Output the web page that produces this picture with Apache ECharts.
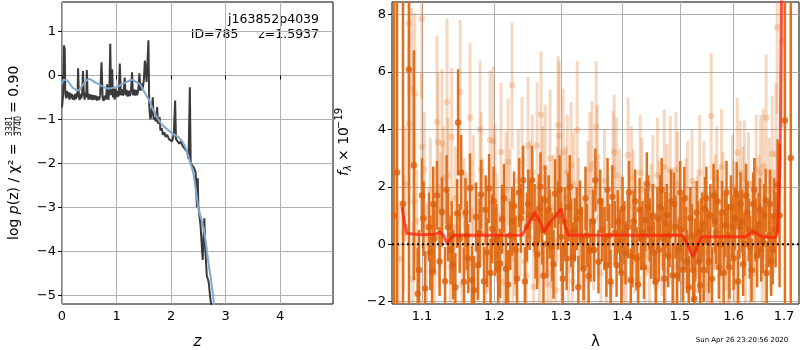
<!DOCTYPE html>
<html>
<head>
<meta charset="utf-8">
<script src="https://cdn.jsdelivr.net/npm/echarts@6/dist/echarts.min.js"></script>
</head>
<body style="margin:0">
<div id="container" style="width:800px;height:350px"></div>
<script>
// ---------- left panel: log p(z) ----------
var zTicks = [0, 1, 2, 3, 4];
var logpTicks = [-5, -4, -3, -2, -1, 0, 1];

var pzZ = [0.000, 0.020, 0.035, 0.050, 0.060, 0.075, 0.090, 0.105, 0.120, 0.135, 0.150, 0.165, 0.180, 0.195, 0.210, 0.225, 0.240, 0.255, 0.270, 0.285,
  0.295, 0.310, 0.325, 0.340, 0.355, 0.370, 0.385, 0.400, 0.415, 0.430, 0.445, 0.455, 0.470, 0.485, 0.500, 0.520, 0.540, 0.560, 0.580, 0.600,
  0.620, 0.640, 0.660, 0.680, 0.700, 0.725, 0.745, 0.765, 0.785, 0.805, 0.830, 0.850, 0.870, 0.885, 0.900, 0.920, 0.935, 0.950, 0.965, 0.985,
  1.000, 1.020, 1.040, 1.060, 1.080, 1.100, 1.120, 1.135, 1.150, 1.165, 1.185, 1.205, 1.225, 1.245, 1.265, 1.285, 1.300, 1.320, 1.340, 1.360,
  1.380, 1.400, 1.420, 1.440, 1.460, 1.480, 1.500, 1.520, 1.535, 1.550, 1.570, 1.585, 1.600, 1.620, 1.640, 1.665, 1.680, 1.700, 1.720, 1.745,
  1.760, 1.790, 1.805, 1.830, 1.850, 1.880, 1.900, 1.930, 1.960, 1.990, 2.020, 2.050, 2.075, 2.090, 2.120, 2.150, 2.180, 2.210, 2.240, 2.270,
  2.300, 2.320, 2.345, 2.360, 2.390, 2.420, 2.450, 2.475, 2.490, 2.500, 2.540, 2.580, 2.610, 2.630, 2.655, 2.690, 2.720, 2.760];
var pzLog = [-0.73, -0.45, 0.68, 0.60, -0.40, -0.52, -0.35, -0.50, -0.38, -0.55, -0.40, -0.52, -0.42, -0.55, -0.45, -0.56, -0.42, -0.54, -0.40, -0.50,
  0.16, -0.48, -0.56, -0.42, -0.52, -0.40, 0.10, -0.42, -0.55, -0.40, -0.50, 0.12, -0.45, -0.55, -0.42, -0.54, -0.44, -0.56, -0.45, -0.55,
  -0.46, -0.57, -0.48, -0.56, -0.46, 0.30, -0.52, -0.58, -0.46, -0.55, -0.20, -0.56, -0.30, 0.72, -0.45, 0.14, -0.50, -0.30, -0.55, -0.30,
  -0.50, -0.35, -0.48, 0.27, -0.45, -0.32, -0.46, -0.30, -0.05, -0.45, -0.33, -0.48, -0.35, -0.47, -0.34, 0.07, -0.45, -0.32, -0.46, -0.33,
  -0.45, -0.32, 0.05, -0.35, -0.18, -0.30, -0.12, 0.34, 0.10, -0.15, 0.35, 0.80, -0.70, -1.00, -0.90, -0.50, -1.00, -0.95, -1.05, -0.72,
  -1.10, -0.95, -1.25, -1.20, -1.35, -1.30, -1.40, -1.35, -1.45, -1.43, -1.50, -1.35, -0.57, -1.45, -1.50, -1.55, -1.50, -1.60, -1.62, -1.70,
  -1.75, -1.90, -0.27, -2.00, -2.05, -2.10, -2.20, -3.00, -2.34, -2.95, -3.40, -4.20, -3.25, -4.00, -4.55, -4.70, -5.07, -5.40];

var fitZ = [0.00, 0.03, 0.10, 0.20, 0.30, 0.40, 0.50, 0.60, 0.70, 0.85, 1.00, 1.10, 1.20, 1.28, 1.36, 1.44, 1.52, 1.60, 1.70, 1.85,
  2.03, 2.15, 2.25, 2.33, 2.41, 2.50, 2.60, 2.69, 2.76, 2.80];
var fitLog = [-0.20, -0.10, -0.12, -0.28, -0.34, -0.18, -0.08, -0.15, -0.22, -0.30, -0.26, -0.20, -0.14, -0.10, -0.15, -0.22, -0.40, -0.57, -0.86, -1.14,
  -1.32, -1.42, -1.60, -1.90, -2.23, -3.00, -3.50, -4.30, -4.90, -5.40];

// ---------- right panel: spectrum ----------
var lamTicks = [1.1, 1.2, 1.3, 1.4, 1.5, 1.6, 1.7];
var fluxTicks = [-2, 0, 2, 4, 6, 8];

var darkLam = [1.0636, 1.0674, 1.0751, 1.0829, 1.0893, 1.0943, 1.0961, 1.1000, 1.1040, 1.1093, 1.1133, 1.1165, 1.1200, 1.1268, 1.1309, 1.1350, 1.1385, 1.1419, 1.1475, 1.1488,
  1.1530, 1.1570, 1.1610, 1.1654, 1.1682, 1.1739, 1.1767, 1.1810, 1.1852, 1.1895, 1.1924, 1.1967, 1.2010, 1.2054, 1.2083, 1.2112, 1.2170, 1.2230, 1.2287, 1.2332,
  1.2362, 1.2422, 1.2480, 1.2520, 1.2557, 1.2595, 1.2632, 1.2663, 1.2709, 1.2755, 1.2786, 1.2825, 1.2863, 1.2910, 1.2956, 1.3002, 1.3065, 1.3118, 1.3160, 1.3190,
  1.3250, 1.3300, 1.3360, 1.3410, 1.3470, 1.3510, 1.3550, 1.3600, 1.3660, 1.3730, 1.3780, 1.3830, 1.3900, 1.3920, 1.3960, 1.4000, 1.4050, 1.4090, 1.4140, 1.4190,
  1.4240, 1.4290, 1.4340, 1.4390, 1.4440, 1.4490, 1.4540, 1.4600, 1.4650, 1.4700, 1.4740, 1.4790, 1.4840, 1.4870, 1.4920, 1.4980, 1.5030, 1.5080, 1.5130, 1.5190,
  1.5240, 1.5280, 1.5330, 1.5370, 1.5410, 1.5460, 1.5510, 1.5560, 1.5620, 1.5670, 1.5720, 1.5780, 1.5840, 1.5890, 1.5950, 1.6000, 1.6060, 1.6110, 1.6160, 1.6210,
  1.6270, 1.6320, 1.6380, 1.6430, 1.6490, 1.6540, 1.6600, 1.6630, 1.6690, 1.6740, 1.6800, 1.6870, 1.6910, 1.7020, 1.7140,
  1.1020, 1.1110, 1.1150, 1.1235, 1.1330, 1.1400, 1.1450, 1.1510, 1.1590, 1.1630, 1.1710, 1.1790, 1.1875, 1.1945, 1.1990, 1.2030, 1.2140, 1.2200, 1.2260, 1.2310,
  1.2390, 1.2450, 1.2500, 1.2610, 1.2685, 1.2730, 1.2810, 1.2885, 1.2980, 1.3030, 1.3090, 1.3140, 1.3220, 1.3275, 1.3330, 1.3390, 1.3440, 1.3530, 1.3630, 1.3700,
  1.3750, 1.3800, 1.3870, 1.3980, 1.4030, 1.4110, 1.4165, 1.4215, 1.4265, 1.4315, 1.4365, 1.4415, 1.4465, 1.4520, 1.4570, 1.4625, 1.4675, 1.4720, 1.4765, 1.4815,
  1.4895, 1.4950, 1.5005, 1.5055, 1.5105, 1.5160, 1.5215, 1.5260, 1.5305, 1.5350, 1.5390, 1.5435, 1.5485, 1.5535, 1.5590, 1.5645, 1.5695, 1.5750, 1.5810, 1.5865,
  1.5920, 1.5975, 1.6030, 1.6085, 1.6135, 1.6185, 1.6240, 1.6295, 1.6350, 1.6405, 1.6460, 1.6515, 1.6570, 1.6650, 1.6715, 1.6770, 1.6830];
var darkFlux = [1.00, 2.50, 1.41, 6.08, 2.75, -1.72, -0.90, 1.70, -1.54, 0.60, -0.96, 0.20, 1.70, 1.12, -1.29, 0.60, -0.20, -0.71, 1.07, 4.24,
  2.50, -1.31, 0.30, 1.96, -1.25, 0.95, -0.73, 1.73, -1.29, -0.29, 1.94, 0.54, 0.10, -0.85, -0.67, 0.87, -0.85, 0.30, 1.33, -1.19,
  1.80, 2.23, 0.60, 1.00, 2.23, 0.90, -0.36, 1.24, 0.49, 1.53, 0.02, 0.70, -0.09, 1.76, 1.01, 0.26, 0.78, 1.30, 0.40, -0.44,
  0.89, 1.12, -0.85, 0.30, -0.21, 0.80, 2.23, -0.61, 0.50, -0.73, 0.30, 1.65, -0.73, 0.78, 0.10, 1.24, -0.30, 0.60, -1.25, 0.80,
  -0.50, 1.20, 0.40, 0.85, 1.30, -0.10, -0.30, 0.90, 1.30, 0.20, 0.72, -0.40, 1.50, -1.08, 0.60, -0.20, 0.50, 1.60, -0.60, 0.90,
  -0.90, -0.20, 0.40, -1.43, 0.70, 1.24, 0.10, 1.00, 1.70, 0.40, -0.80, 1.10, 0.66, 0.30, 1.30, -0.50, 1.76, 0.60, 0.80, 0.00,
  1.10, -0.10, 1.40, 0.50, 0.70, -0.20, 1.00, 1.53, 0.30, -0.60, 1.00, 2.05, 1.00, 4.31, 3.00,
  0.9, -0.3, 1.4, -0.6, 1.9, 0.3, -1.5, 0.2, 1.1, -0.5, -1.6, 0.4, 1.2, -1.0, 1.5, 0.2, 1.6, -1.4, 0.8, -0.2,
  0.9, -1.3, 1.4, 0.0, 2.0, -1.1, 1.2, -0.7, 1.9, -1.2, -0.5, 2.0, 0.5, -1.5, 0.2, 1.6, -1.1, -0.2, 1.5, 0.2,
  1.9, -1.3, 0.4, -1.0, 0.4, 1.8, -0.4, 1.5, -1.4, 0.2, -0.8, 2.1, 0.5, 1.0, -1.3, -0.2, 1.9, -1.2, 1.0, 0.3,
  1.4, -1.1, 1.8, -0.9, 0.2, -1.5, 0.3, -1.9, 1.1, -0.6, 0.5, -0.9, 1.6, -0.6, -1.2, 0.8, 1.5, 0.0, -1.0, 1.8,
  -0.8, 0.6, 0.9, -1.3, 1.4, -0.7, 1.7, 0.5, -0.9, 1.9, -0.4, 1.2, 0.1, -1.0, 1.4, -0.2, 0.5];
var darkErr = [30, 30, 30, 30, 4.0, 1.6, 1.4, 1.3, 1.3, 1.2, 1.2, 1.2, 1.2, 1.2, 1.2, 1.2, 1.2, 1.2, 1.2, 1.85,
  1.3, 1.2, 1.2, 1.2, 1.2, 1.2, 1.2, 1.2, 1.2, 1.2, 1.2, 1.2, 1.2, 1.2, 1.2, 1.2, 1.2, 1.2, 1.2, 1.2,
  1.2, 1.2, 1.2, 1.2, 1.2, 1.2, 1.2, 1.2, 1.2, 1.2, 1.2, 1.2, 1.2, 1.2, 1.2, 1.2, 1.2, 1.2, 1.2, 1.2,
  1.1, 1.1, 1.1, 1.1, 1.1, 1.1, 1.1, 1.1, 1.1, 1.1, 1.1, 1.1, 1.1, 1.1, 1.1, 1.1, 1.1, 1.1, 1.1, 1.1,
  1.1, 1.1, 1.1, 1.1, 1.1, 1.1, 1.1, 1.1, 1.1, 1.1, 1.1, 1.1, 1.1, 1.1, 1.1, 1.1, 1.1, 1.1, 1.1, 1.1,
  1.1, 1.1, 1.1, 1.1, 1.1, 1.1, 1.1, 1.1, 1.1, 1.1, 1.1, 1.1, 1.1, 1.1, 1.1, 1.1, 1.1, 1.1, 1.1, 1.1,
  1.1, 1.1, 1.1, 1.1, 1.1, 1.1, 1.1, 1.1, 1.1, 1.2, 1.3, 1.6, 2.5, 30, 30,
  1.3, 1.3, 1.3, 1.2, 1.2, 1.2, 1.2, 1.2, 1.2, 1.2, 1.2, 1.2, 1.2, 1.2, 1.2, 1.2, 1.2, 1.2, 1.2, 1.2,
  1.2, 1.2, 1.2, 1.2, 1.2, 1.2, 1.2, 1.2, 1.2, 1.2, 1.1, 1.1, 1.1, 1.1, 1.1, 1.1, 1.1, 1.1, 1.1, 1.1,
  1.1, 1.1, 1.1, 1.1, 1.1, 1.1, 1.1, 1.1, 1.1, 1.1, 1.1, 1.1, 1.1, 1.1, 1.1, 1.1, 1.1, 1.1, 1.1, 1.1,
  1.1, 1.1, 1.1, 1.1, 1.1, 1.1, 1.1, 1.1, 1.1, 1.1, 1.1, 1.1, 1.1, 1.1, 1.1, 1.1, 1.1, 1.1, 1.1, 1.1,
  1.1, 1.1, 1.1, 1.1, 1.1, 1.1, 1.1, 1.1, 1.1, 1.1, 1.1, 1.1, 1.1, 1.1, 1.2, 1.2, 1.3];

var lightLam = [1.0700, 1.0780, 1.0829, 1.0829, 1.0868, 1.0880, 1.0906, 1.0930, 1.0997, 1.0997, 1.1060, 1.1110, 1.1170, 1.1200, 1.1214, 1.1230, 1.1268, 1.1290, 1.1336, 1.1380,
  1.1400, 1.1450, 1.1516, 1.1540, 1.1600, 1.1654, 1.1700, 1.1760, 1.1795, 1.1830, 1.1880, 1.1938, 1.1981, 1.2010, 1.2040, 1.2097, 1.2140, 1.2199, 1.2230, 1.2258,
  1.2300, 1.2350, 1.2406, 1.2450, 1.2496, 1.2530, 1.2580, 1.2632, 1.2650, 1.2693, 1.2720, 1.2755, 1.2800, 1.2832, 1.2880, 1.2920, 1.2956, 1.2972, 1.3035, 1.3080,
  1.3120, 1.3160, 1.3200, 1.3256, 1.3300, 1.3380, 1.3430, 1.3497, 1.3520, 1.3562, 1.3580, 1.3640, 1.3700, 1.3760, 1.3810, 1.3843, 1.3860, 1.3950, 1.4020, 1.4094,
  1.4150, 1.4210, 1.4270, 1.4330, 1.4410, 1.4460, 1.4520, 1.4580, 1.4630, 1.4680, 1.4720, 1.4770, 1.4826, 1.4900, 1.4960, 1.5010, 1.5060, 1.5110, 1.5170, 1.5220,
  1.5270, 1.5320, 1.5390, 1.5440, 1.5500, 1.5575, 1.5620, 1.5680, 1.5740, 1.5800, 1.5860, 1.5920, 1.5980, 1.6030, 1.6071, 1.6130, 1.6180, 1.6230, 1.6290, 1.6350,
  1.6400, 1.6441, 1.6500, 1.6560, 1.6581, 1.6640, 1.6700, 1.6762, 1.6800, 1.6840, 1.6860, 1.6964,
  1.0760, 1.0900, 1.1030, 1.1140, 1.1250, 1.1350, 1.1430, 1.1570, 1.1680, 1.1810, 1.1900, 1.2070, 1.2170, 1.2270, 1.2380, 1.2470, 1.2560, 1.2670, 1.2780, 1.2850,
  1.2940, 1.3010, 1.3100, 1.3180, 1.3280, 1.3350, 1.3460, 1.3600, 1.3730, 1.3900, 1.3990, 1.4060, 1.4180, 1.4300, 1.4380, 1.4490, 1.4600, 1.4740, 1.4860, 1.4930,
  1.5040, 1.5140, 1.5250, 1.5360, 1.5470, 1.5540, 1.5650, 1.5770, 1.5890, 1.6000, 1.6100, 1.6210, 1.6320, 1.6420, 1.6530, 1.6620, 1.6730];
var lightFlux = [-0.5, 2.1, 7.68, 4.20, 5.41, -1.2, 5.24, 0.8, 7.85, 3.39, -0.4, 1.9, -1.0, 4.26, 3.56, 0.3, 3.50, 2.3, 4.95, -0.8,
  3.73, 1.6, 5.30, -1.4, 0.7, 4.41, 2.0, -0.2, 3.99, 1.2, -1.0, 3.64, 3.58, 2.4, 0.5, 3.21, -1.3, 2.86, 1.5, 5.52,
  0.0, 2.2, 2.92, -0.6, 3.42, 1.8, -1.5, 3.44, 0.4, 4.51, 2.3, 2.66, -1.0, 2.98, 1.3, -1.6, 4.14, 3.77, 3.21, 1.6,
  -0.9, 2.75, 2.1, 3.97, 0.3, -1.2, 1.8, 2.78, 0.2, 4.08, 3.04, -1.0, 2.2, 0.6, -1.4, 2.63, 3.20, 1.5, -0.6, 3.10,
  2.3, 0.1, -1.2, 1.9, 0.7, -0.9, 2.0, -1.5, 1.1, 0.0, 2.69, 1.7, 2.57, -0.8, 2.1, 0.9, -1.3, 1.2, -0.2, 2.2,
  -1.6, 0.6, -0.9, 1.8, -0.3, 4.45, 0.9, 2.3, -1.1, 1.4, 0.2, -0.6, 2.0, -1.3, 3.19, 2.49, 1.6, -0.5, 2.1, 0.4,
  -1.0, 2.61, 1.3, -0.4, 2.72, 4.41, 1.9, 3.15, 0.8, 3.12, 7.54, 7.06,
  0.4, 1.5, 2.6, -0.6, 1.2, 2.4, -1.3, 1.0, -0.7, 2.6, 0.3, -0.9, 1.9, -0.5, 0.9, -1.1, 2.5, -0.3, 0.5, -1.4,
  1.4, 0.0, 2.5, -1.3, 1.0, -0.5, 2.6, 0.9, -0.8, 2.4, 0.4, -1.2, 1.3, 2.5, -0.4, 0.8, 2.4, -0.9, 0.6, 2.6,
  -0.2, 1.6, 0.2, 2.5, 0.3, -1.4, 1.1, 2.7, -0.9, 0.9, -0.4, 2.3, -1.1, 1.0, 2.5, -0.8, 0.4];
var lightErr = [2.0, 2.0, 2.6, 2.8, 2.8, 2.0, 2.8, 1.8, 2.8, 2.6, 1.8, 1.8, 1.8, 3.0, 2.4, 1.8, 2.6, 1.8, 2.9, 1.8,
  2.4, 1.8, 2.5, 1.8, 1.8, 2.6, 1.8, 1.8, 2.4, 1.8, 1.8, 2.4, 2.6, 1.8, 1.8, 2.4, 1.8, 2.2, 1.8, 2.2,
  1.8, 1.8, 2.2, 1.8, 2.4, 1.8, 1.8, 2.2, 1.8, 2.2, 1.8, 2.2, 1.8, 2.4, 1.8, 1.8, 2.4, 2.6, 2.2, 1.8,
  1.8, 2.2, 1.8, 2.4, 1.8, 1.8, 1.8, 2.2, 1.8, 2.3, 1.8, 1.8, 1.8, 1.8, 1.8, 2.0, 2.0, 1.8, 1.8, 2.0,
  1.8, 1.8, 1.8, 1.8, 1.8, 1.8, 1.8, 1.8, 1.8, 1.8, 2.0, 1.8, 1.9, 1.8, 1.8, 1.8, 1.8, 1.8, 1.8, 1.8,
  1.8, 1.8, 1.8, 1.8, 1.8, 2.2, 1.8, 1.8, 1.8, 1.8, 1.8, 1.8, 1.8, 1.8, 1.9, 1.8, 1.8, 1.8, 1.8, 1.8,
  1.8, 1.9, 1.8, 1.8, 2.0, 2.2, 1.8, 2.0, 1.8, 2.5, 3.0, 3.0,
  2.0, 2.0, 2.0, 2.0, 2.0, 2.0, 2.0, 2.0, 2.0, 2.0, 2.0, 2.0, 2.0, 2.0, 2.0, 2.0, 2.0, 2.0, 2.0, 2.0,
  2.0, 2.0, 2.0, 2.0, 2.0, 2.0, 2.0, 2.0, 2.0, 2.0, 2.0, 2.0, 2.0, 2.0, 2.0, 2.0, 2.0, 2.0, 2.0, 2.0,
  2.0, 2.0, 2.0, 2.0, 2.0, 2.0, 2.0, 2.0, 2.0, 2.0, 2.0, 2.0, 2.0, 2.0, 2.0, 2.0, 2.0];

var modelLam = [1.0738, 1.0770, 1.0803, 1.1000, 1.1174, 1.1242, 1.1290, 1.1336, 1.1419, 1.2406, 1.2500, 1.2603, 1.2670, 1.2740, 1.2810, 1.2879, 1.3002, 1.3060, 1.3113, 1.5041,
  1.5140, 1.5200, 1.5240, 1.5310, 1.5396, 1.6240, 1.6363, 1.6560, 1.6818, 1.6870, 1.6921, 1.6950];
var modelFlux = [1.30, 0.75, 0.37, 0.33, 0.35, 0.43, 0.30, 0.02, 0.31, 0.31, 0.70, 1.12, 0.80, 0.43, 0.70, 0.89, 1.24, 0.70, 0.31, 0.31,
  0.00, -0.30, -0.44, -0.10, 0.26, 0.26, 0.45, 0.26, 0.23, 0.40, 3.00, 9.00];

var lamMin = 1.061, lamMax = 1.731;
var fluxMin = -2.08, fluxMax = 8.43;

var darkOrange = '#e0701e';
var lightOrange = 'rgba(224,112,30,0.28)';
var font = 'DejaVu Sans';

function minus(v) {
  return v < 0 ? '\u2212' + Math.abs(v) : String(v);
}

function pairs(xs, ys, fx) {
  return xs.map(function (x, i) { return [fx ? fx(x) : x, ys[i]]; });
}

function errorBars(lam, flux, err, color, width, z) {
  var data = lam.map(function (l, i) {
    return [Math.log(l), Math.max(flux[i] - err[i], fluxMin), Math.min(flux[i] + err[i], fluxMax)];
  });
  return {
    type: 'custom', xAxisIndex: 1, yAxisIndex: 1, silent: true, z: z,
    data: data,
    encode: {x: 0, y: [1, 2]},
    renderItem: function (params, api) {
      var lo = api.coord([api.value(0), api.value(1)]);
      var hi = api.coord([api.value(0), api.value(2)]);
      return {
        type: 'line',
        shape: {x1: lo[0], y1: lo[1], x2: hi[0], y2: hi[1]},
        style: {stroke: color, lineWidth: width}
      };
    }
  };
}

var tickLabel = {color: '#000', fontSize: 13, fontFamily: font};
var gridLine = {show: true, lineStyle: {color: '#b0b0b0', width: 1}};
var tick = {show: true, inside: false, length: 4, lineStyle: {color: '#000'}};

var chart = echarts.init(document.getElementById('container'));
var option = {
  animation: false,
  grid: [
    {left: 62, top: 2, width: 271, height: 302, outerBoundsMode: 'none', show: true, borderColor: '#000', borderWidth: 1, backgroundColor: 'transparent'},
    {left: 392, top: 2, width: 407, height: 302, outerBoundsMode: 'none', show: true, borderColor: '#000', borderWidth: 1, backgroundColor: 'transparent'}
  ],
  xAxis: [
    {
      type: 'value', gridIndex: 0, min: 0, max: 4.97,
      axisLine: {show: false},
      axisTick: Object.assign({customValues: zTicks}, tick),
      axisLabel: Object.assign({customValues: zTicks, margin: 6}, tickLabel),
      splitLine: gridLine,
      name: 'z', nameLocation: 'middle', nameGap: 31,
      nameTextStyle: {fontSize: 15, fontStyle: 'italic', fontFamily: font, color: '#000'}
    },
    {
      type: 'value', gridIndex: 1, min: Math.log(lamMin), max: Math.log(lamMax),
      axisLine: {show: false},
      axisTick: Object.assign({customValues: lamTicks.map(Math.log)}, tick),
      axisLabel: Object.assign({
        customValues: lamTicks.map(Math.log), margin: 6,
        formatter: function (v) { return Math.exp(v).toFixed(1); }
      }, tickLabel),
      splitLine: gridLine,
      name: '\u03bb', nameLocation: 'middle', nameGap: 31,
      nameTextStyle: {fontSize: 15, fontFamily: font, color: '#000'}
    }
  ],
  yAxis: [
    {
      type: 'value', gridIndex: 0, min: -5.2, max: 1.67,
      axisLine: {show: false},
      axisTick: Object.assign({customValues: logpTicks}, tick),
      axisLabel: Object.assign({customValues: logpTicks, margin: 6, formatter: minus}, tickLabel),
      splitLine: gridLine
    },
    {
      type: 'value', gridIndex: 1, min: fluxMin, max: fluxMax,
      axisLine: {show: false},
      axisTick: Object.assign({customValues: fluxTicks}, tick),
      axisLabel: Object.assign({customValues: fluxTicks, margin: 6, formatter: minus}, tickLabel),
      splitLine: gridLine
    }
  ],
  graphic: [
    {type: 'text', x: 319, y: 20, style: {text: 'j163852p4039', textAlign: 'right', textVerticalAlign: 'middle', fontSize: 12.5, fontFamily: font, fill: '#000'}},
    {type: 'text', x: 319, y: 35, style: {text: 'ID=785     z=1.5937', textAlign: 'right', textVerticalAlign: 'middle', fontSize: 12.5, fontFamily: font, fill: '#000'}},
    {
      type: 'group', x: 14, y: 240, rotation: Math.PI / 2,
      children: [
        {type: 'text', x: 0, y: 0, style: {
          text: 'log {i|p}(z) / \u03c7\u00b2 =', textVerticalAlign: 'middle', fontSize: 14, fontFamily: font, fill: '#000',
          rich: {i: {fontStyle: 'italic', fontSize: 14, fontFamily: font}}
        }},
        {type: 'text', x: 114, y: -4, style: {text: '3381', textAlign: 'center', textVerticalAlign: 'middle', fontSize: 8, fontFamily: font, fill: '#000'}},
        {type: 'line', shape: {x1: 105, y1: 0, x2: 123, y2: 0}, style: {stroke: '#000', lineWidth: 0.8}},
        {type: 'text', x: 114, y: 4.5, style: {text: '3740', textAlign: 'center', textVerticalAlign: 'middle', fontSize: 8, fontFamily: font, fill: '#000'}},
        {type: 'text', x: 127, y: 0, style: {text: '= 0.90', textVerticalAlign: 'middle', fontSize: 14, fontFamily: font, fill: '#000'}}
      ]
    },
    {
      type: 'group', x: 344, y: 176, rotation: Math.PI / 2,
      children: [
        {type: 'text', x: 0, y: 0, style: {text: 'f', textVerticalAlign: 'middle', fontSize: 14, fontStyle: 'italic', fontFamily: font, fill: '#000'}},
        {type: 'text', x: 5, y: 4, style: {text: '\u03bb', textVerticalAlign: 'middle', fontSize: 10, fontStyle: 'italic', fontFamily: font, fill: '#000'}},
        {type: 'text', x: 15, y: 0, style: {text: '\u00d7 10', textVerticalAlign: 'middle', fontSize: 14, fontFamily: font, fill: '#000'}},
        {type: 'text', x: 47, y: -5, style: {text: '\u221219', textVerticalAlign: 'middle', fontSize: 10, fontFamily: font, fill: '#000'}}
      ]
    },
    {type: 'text', x: 742, y: 340, style: {text: 'Sun Apr 26 23:20:56 2020', textAlign: 'center', textVerticalAlign: 'middle', fontSize: 7, fontFamily: font, fill: '#000'}}
  ],
  series: [
    {
      type: 'line', xAxisIndex: 0, yAxisIndex: 0, data: pairs(pzZ, pzLog),
      showSymbol: false, clip: true, z: 3,
      lineStyle: {color: '#3a3a3a', width: 2}
    },
    {
      type: 'line', xAxisIndex: 0, yAxisIndex: 0, data: pairs(fitZ, fitLog),
      showSymbol: false, clip: true, smooth: 0.3, z: 4,
      lineStyle: {color: '#7fa9d0', width: 2}
    },
    errorBars(lightLam, lightFlux, lightErr, lightOrange, 3, 2),
    {
      type: 'scatter', xAxisIndex: 1, yAxisIndex: 1, data: pairs(lightLam, lightFlux, Math.log),
      symbolSize: 6.5, z: 2, itemStyle: {color: 'rgba(224,112,30,0.3)'}
    },
    errorBars(darkLam, darkFlux, darkErr, darkOrange, 2.5, 3),
    {
      type: 'scatter', xAxisIndex: 1, yAxisIndex: 1, data: pairs(darkLam, darkFlux, Math.log),
      symbolSize: 6.5, z: 3, itemStyle: {color: '#d9620f'}
    },
    {
      type: 'line', xAxisIndex: 1, yAxisIndex: 1, data: pairs(modelLam, modelFlux, Math.log),
      showSymbol: false, clip: true, z: 4,
      lineStyle: {color: 'rgba(255,30,10,0.75)', width: 3}
    },
    {
      type: 'line', xAxisIndex: 1, yAxisIndex: 1, data: [[Math.log(lamMin), 0], [Math.log(lamMax), 0]],
      showSymbol: false, z: 5,
      lineStyle: {color: '#000', width: 2, type: [2, 3]}
    }
  ]
};
chart.setOption(option);
</script>
</body>
</html>
